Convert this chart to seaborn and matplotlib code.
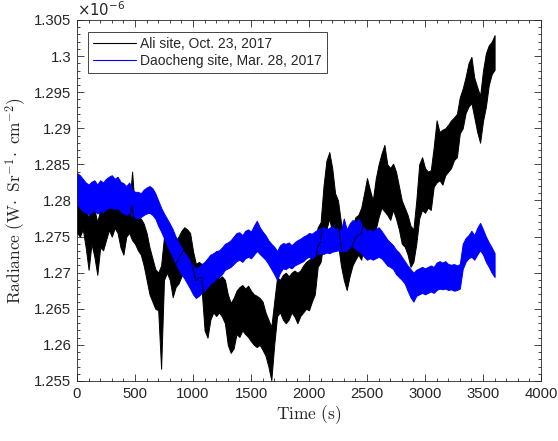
import numpy as np
import pandas as pd
import matplotlib
matplotlib.use("Agg")
import matplotlib.pyplot as plt
from matplotlib.ticker import MultipleLocator, FuncFormatter
import seaborn as sns

# radiance, in units of 1e-6 W Sr^-1 cm^-2
# sampled every 25 s; lo/hi = lower and upper edge of the noisy trace
time_s = np.arange(0, 3601, 25)

ali_lo = [1.2755, 1.2750, 1.2760, 1.2735, 1.2704, 1.2740, 1.2722, 1.2697,
          1.2735, 1.2731, 1.2745, 1.2759, 1.2750, 1.2762, 1.2755, 1.2735,
          1.2725, 1.2750, 1.2755, 1.2745, 1.2740, 1.2731, 1.2725, 1.2710,
          1.2690, 1.2670, 1.2660, 1.2650, 1.2648, 1.2567, 1.2690, 1.2700,
          1.2690, 1.2666, 1.2680, 1.2685, 1.2695, 1.2700, 1.2690, 1.2695,
          1.2680, 1.2666, 1.2670, 1.2675, 1.2620, 1.2610, 1.2635, 1.2645,
          1.2640, 1.2645, 1.2639, 1.2630, 1.2600, 1.2589, 1.2595, 1.2615,
          1.2611, 1.2620, 1.2615, 1.2611, 1.2605, 1.2600, 1.2597, 1.2600,
          1.2593, 1.2585, 1.2570, 1.2551, 1.2600, 1.2640, 1.2645, 1.2635,
          1.2630, 1.2635, 1.2645, 1.2639, 1.2630, 1.2640, 1.2645, 1.2650,
          1.2648, 1.2660, 1.2670, 1.2708, 1.2715, 1.2740, 1.2760, 1.2775,
          1.2755, 1.2745, 1.2740, 1.2710, 1.2690, 1.2676, 1.2695, 1.2710,
          1.2718, 1.2725, 1.2718, 1.2740, 1.2745, 1.2750, 1.2745, 1.2760,
          1.2777, 1.2790, 1.2785, 1.2780, 1.2773, 1.2787, 1.2775, 1.2760,
          1.2740, 1.2736, 1.2725, 1.2708, 1.2715, 1.2740, 1.2775, 1.2787,
          1.2783, 1.2790, 1.2787, 1.2819, 1.2825, 1.2828, 1.2822, 1.2835,
          1.2840, 1.2845, 1.2856, 1.2860, 1.2893, 1.2900, 1.2921, 1.2930,
          1.2935, 1.2915, 1.2895, 1.2880, 1.2910, 1.2930, 1.2960, 1.2975,
          1.2981]

ali_hi = [1.2797, 1.2790, 1.2797, 1.2785, 1.2777, 1.2790, 1.2788, 1.2770,
          1.2788, 1.2784, 1.2790, 1.2793, 1.2791, 1.2794, 1.2789, 1.2785,
          1.2782, 1.2790, 1.2792, 1.2840, 1.2785, 1.2777, 1.2775, 1.2768,
          1.2755, 1.2735, 1.2720, 1.2705, 1.2700, 1.2710, 1.2750, 1.2755,
          1.2745, 1.2740, 1.2745, 1.2750, 1.2758, 1.2763, 1.2760, 1.2755,
          1.2730, 1.2712, 1.2715, 1.2712, 1.2690, 1.2680, 1.2690, 1.2690,
          1.2694, 1.2692, 1.2695, 1.2690, 1.2670, 1.2658, 1.2665, 1.2675,
          1.2680, 1.2683, 1.2678, 1.2682, 1.2675, 1.2670, 1.2668, 1.2665,
          1.2660, 1.2645, 1.2635, 1.2625, 1.2660, 1.2694, 1.2690, 1.2697,
          1.2700, 1.2695, 1.2700, 1.2703, 1.2700, 1.2703, 1.2710, 1.2715,
          1.2718, 1.2722, 1.2740, 1.2763, 1.2770, 1.2820, 1.2855, 1.2867,
          1.2845, 1.2810, 1.2800, 1.2770, 1.2745, 1.2727, 1.2745, 1.2765,
          1.2777, 1.2780, 1.2790, 1.2810, 1.2831, 1.2815, 1.2800, 1.2830,
          1.2850, 1.2865, 1.2877, 1.2850, 1.2845, 1.2851, 1.2840, 1.2820,
          1.2800, 1.2790, 1.2780, 1.2765, 1.2760, 1.2800, 1.2850, 1.2860,
          1.2845, 1.2840, 1.2842, 1.2874, 1.2911, 1.2895, 1.2898, 1.2900,
          1.2905, 1.2911, 1.2915, 1.2920, 1.2943, 1.2955, 1.2971, 1.2990,
          1.2999, 1.2970, 1.2957, 1.2945, 1.2980, 1.3004, 1.3015, 1.3020,
          1.3029]

dao_lo = [1.2795, 1.2790, 1.2785, 1.2784, 1.2780, 1.2784, 1.2786, 1.2782,
          1.2785, 1.2784, 1.2788, 1.2790, 1.2790, 1.2788, 1.2790, 1.2785,
          1.2783, 1.2780, 1.2783, 1.2778, 1.2777, 1.2775, 1.2777, 1.2780,
          1.2782, 1.2783, 1.2780, 1.2775, 1.2765, 1.2757, 1.2748, 1.2738,
          1.2730, 1.2722, 1.2712, 1.2705, 1.2698, 1.2692, 1.2685, 1.2678,
          1.2670, 1.2665, 1.2668, 1.2672, 1.2676, 1.2680, 1.2685, 1.2688,
          1.2692, 1.2694, 1.2698, 1.2704, 1.2706, 1.2708, 1.2712, 1.2716,
          1.2718, 1.2715, 1.2720, 1.2722, 1.2720, 1.2725, 1.2730, 1.2726,
          1.2722, 1.2718, 1.2712, 1.2705, 1.2698, 1.2690, 1.2700, 1.2706,
          1.2705, 1.2708, 1.2706, 1.2710, 1.2712, 1.2714, 1.2716, 1.2720,
          1.2722, 1.2720, 1.2723, 1.2726, 1.2727, 1.2726, 1.2728, 1.2727,
          1.2729, 1.2730, 1.2731, 1.2729, 1.2730, 1.2731, 1.2735, 1.2737,
          1.2733, 1.2730, 1.2727, 1.2722, 1.2718, 1.2720, 1.2718, 1.2720,
          1.2722, 1.2720, 1.2715, 1.2710, 1.2708, 1.2705, 1.2698, 1.2694,
          1.2690, 1.2685, 1.2675, 1.2666, 1.2660, 1.2668, 1.2670, 1.2672,
          1.2670, 1.2672, 1.2674, 1.2672, 1.2676, 1.2678, 1.2677, 1.2678,
          1.2676, 1.2677, 1.2675, 1.2676, 1.2678, 1.2705, 1.2715, 1.2720,
          1.2722, 1.2718, 1.2725, 1.2731, 1.2725, 1.2715, 1.2708, 1.2700,
          1.2694]

dao_hi = [1.2838, 1.2835, 1.2830, 1.2825, 1.2822, 1.2826, 1.2828, 1.2822,
          1.2828, 1.2825, 1.2830, 1.2833, 1.2835, 1.2830, 1.2833, 1.2826,
          1.2824, 1.2820, 1.2825, 1.2815, 1.2812, 1.2812, 1.2810, 1.2815,
          1.2818, 1.2820, 1.2817, 1.2810, 1.2800, 1.2790, 1.2782, 1.2775,
          1.2768, 1.2760, 1.2750, 1.2742, 1.2735, 1.2728, 1.2722, 1.2716,
          1.2710, 1.2706, 1.2708, 1.2712, 1.2715, 1.2720, 1.2725, 1.2727,
          1.2730, 1.2731, 1.2735, 1.2740, 1.2742, 1.2745, 1.2750, 1.2755,
          1.2756, 1.2752, 1.2758, 1.2760, 1.2757, 1.2765, 1.2772, 1.2763,
          1.2757, 1.2752, 1.2745, 1.2740, 1.2736, 1.2730, 1.2738, 1.2741,
          1.2740, 1.2742, 1.2738, 1.2742, 1.2745, 1.2747, 1.2750, 1.2752,
          1.2755, 1.2754, 1.2757, 1.2760, 1.2762, 1.2763, 1.2760, 1.2762,
          1.2765, 1.2760, 1.2762, 1.2758, 1.2775, 1.2760, 1.2768, 1.2773,
          1.2770, 1.2775, 1.2768, 1.2762, 1.2758, 1.2760, 1.2757, 1.2760,
          1.2763, 1.2758, 1.2752, 1.2746, 1.2742, 1.2738, 1.2732, 1.2728,
          1.2722, 1.2716, 1.2710, 1.2705, 1.2700, 1.2704, 1.2706, 1.2708,
          1.2706, 1.2708, 1.2710, 1.2708, 1.2714, 1.2716, 1.2714, 1.2716,
          1.2712, 1.2711, 1.2712, 1.2710, 1.2712, 1.2740, 1.2748, 1.2752,
          1.2758, 1.2752, 1.2762, 1.2769, 1.2760, 1.2750, 1.2742, 1.2735,
          1.2727]

site_names = ["Ali site, Oct. 23, 2017", "Daocheng site, Mar. 28, 2017"]
site_colors = ["black", "blue"]

# long table: two rows per time stamp and site (lower and upper edge)
frames = []
for name, lo, hi in [(site_names[0], ali_lo, ali_hi), (site_names[1], dao_lo, dao_hi)]:
    frames.append(pd.DataFrame({"t": time_s, "radiance": lo, "site": name}))
    frames.append(pd.DataFrame({"t": time_s, "radiance": hi, "site": name}))
df = pd.concat(frames, ignore_index=True)

sns.set_style("white")
plt.rcParams["font.family"] = ["Liberation Sans", "DejaVu Sans"]
plt.rcParams["mathtext.fontset"] = "cm"

fig = plt.figure(figsize=(5.58, 4.41), dpi=100)
ax = fig.add_axes([77 / 558, 1 - 381 / 441, 464 / 558, 361 / 441])

# solid band between min and max at each stamp = the dense noisy trace
sns.lineplot(data=df, x="t", y="radiance", hue="site", hue_order=site_names,
             palette=site_colors, estimator="mean", errorbar=("pi", 100),
             err_kws={"alpha": 1, "linewidth": 0.7}, linewidth=0.7, ax=ax)

ax.set_xlim(0, 4000)
ax.set_ylim(1.255, 1.305)
ax.xaxis.set_major_locator(MultipleLocator(500))
ax.xaxis.set_minor_locator(MultipleLocator(100))
ax.yaxis.set_major_locator(MultipleLocator(0.005))
ax.yaxis.set_minor_locator(MultipleLocator(0.001))
ax.yaxis.set_major_formatter(FuncFormatter(lambda v, p: "%g" % round(v, 4)))

gray = "#262626"
for s in ax.spines.values():
    s.set_visible(True)
    s.set_color(gray)
    s.set_linewidth(0.6)
ax.tick_params(which="both", direction="in", top=True, right=True,
               bottom=True, left=True, colors=gray, width=0.6)
ax.tick_params(which="major", length=5, labelsize=10.7, pad=4)
ax.tick_params(which="minor", length=2.5)

ax.set_xlabel(r"$\mathrm{Time\ (s)}$", fontsize=12.5, color=gray, labelpad=2)
ax.set_ylabel(r"$\mathrm{Radiance\ (W\!\cdot\ Sr^{-1}\!\cdot\ cm^{-2})}$",
              fontsize=12.5, color=gray, labelpad=4)
ax.text(0, 1.004, r"$\times10^{-6}$", transform=ax.transAxes, ha="left",
        va="bottom", fontsize=10.7, color=gray, math_fontfamily="dejavusans")

handles, labels = ax.get_legend_handles_labels()
leg = ax.legend(handles, labels, loc="upper left",
                bbox_to_anchor=(11 / 464, 1 - 12 / 361), borderaxespad=0,
                frameon=True, fancybox=False, edgecolor=gray, framealpha=1,
                fontsize=10, handlelength=3.1, handletextpad=0.3,
                borderpad=0.35, labelspacing=0.25)
leg.get_frame().set_linewidth(0.6)
for h in leg.get_lines():
    h.set_linewidth(0.8)

fig.savefig("out.png", dpi=100, facecolor="white")
